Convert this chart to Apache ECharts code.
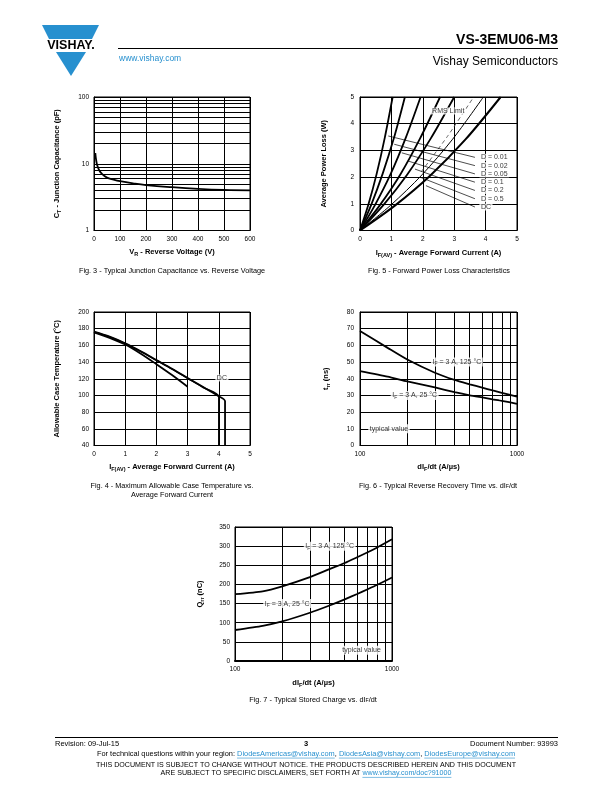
<!DOCTYPE html>
<html><head><meta charset="utf-8">
<script src="https://cdn.jsdelivr.net/npm/echarts@6/dist/echarts.min.js"></script>
<style>html,body{margin:0;padding:0;background:#fff}#c{width:612px;height:792px}</style>
</head><body><div id="c"></div>
<script>
const FONT = '"Liberation Sans", Arial, Helvetica, sans-serif';
const BLUE = '#2790cf';

// ---------- Fig. 3 : junction capacitance ----------
const capVoltage = [5, 8, 12, 20, 30, 50, 75, 100, 150, 200, 300, 400, 500, 600];
const capValue   = [14.5, 11.5, 9.6, 8.0, 7.1, 6.2, 5.8, 5.5, 5.1, 4.8, 4.45, 4.2, 4.05, 4.0];
const capMinorGrid = [2, 3, 4, 5, 6, 7, 8, 9, 20, 30, 40, 50, 60, 70, 80, 90];

// ---------- Fig. 5 : forward power loss ----------
const plNames = ['D = 0.01', 'D = 0.02', 'D = 0.05', 'D = 0.1', 'D = 0.2', 'D = 0.5', 'DC'];
const plD001_I = [0, 0.27, 0.53, 0.79, 1.04];
const plD001_P = [0, 0.98, 2.12, 3.48, 5.0];
const plD002_I = [0, 0.36, 0.72, 1.08, 1.43];
const plD002_P = [0, 0.97, 2.12, 3.46, 5.0];
const plD005_I = [0, 0.48, 0.97, 1.45, 1.93];
const plD005_P = [0, 0.96, 2.10, 3.45, 5.0];
const plD01_I  = [0, 0.64, 1.28, 1.91, 2.55];
const plD01_P  = [0, 0.96, 2.09, 3.44, 5.0];
const plD02_I  = [0, 0.75, 1.50, 2.25, 3.00];
const plD02_P  = [0, 0.96, 2.09, 3.44, 5.0];
const plD05_I  = [0, 0.98, 1.97, 2.95, 3.93];
const plD05_P  = [0, 0.95, 2.08, 3.42, 5.0];
const plDC_I   = [0, 1.12, 2.24, 3.36, 4.48];
const plDC_P   = [0, 0.94, 2.06, 3.41, 5.0];
const plRms_I  = [1.95, 2.80, 3.62];
const plRms_P  = [2.20, 3.55, 5.0];
const leadStartI = [0.90, 1.09, 1.33, 1.54, 1.75, 1.93, 2.10];
const leadStartP = [3.54, 3.23, 2.91, 2.60, 2.30, 1.99, 1.68];
const leadEndI   = [3.66, 3.66, 3.66, 3.66, 3.66, 3.66, 3.66];
const leadEndP   = [2.74, 2.43, 2.12, 1.81, 1.50, 1.19, 0.88];

// ---------- Fig. 4 : allowable case temperature ----------
const tcA_I = [0, 0.5, 1, 1.5, 2, 2.5, 3];
const tcA_T = [175.5, 169, 161, 150, 137.5, 124.5, 110.5];
const tcB_I = [0, 0.5, 1, 1.5, 2, 2.5, 3, 3.5, 4, 4];
const tcB_T = [176, 170, 162, 152.5, 142, 131.5, 120.5, 109.5, 98, 40];
const tcDC_I = [0, 0.5, 1, 1.5, 2, 2.5, 3, 3.5, 4, 4.2, 4.2];
const tcDC_T = [176.5, 170.5, 162.5, 153, 142.5, 132, 121, 110, 99, 93, 40];

// ---------- Fig. 6 / 7 : vs dIF/dt ----------
const didt = [100, 150, 200, 300, 400, 500, 600, 700, 800, 1000];
const trr125 = [68.6, 58.5, 51.5, 43.6, 39.3, 36.7, 34.7, 33.0, 31.6, 29.3];
const trr25  = [44.6, 41.3, 38.4, 34.8, 32.0, 30.1, 28.8, 27.7, 26.8, 25.0];
const qrr125 = [174.5, 182, 195, 219, 240, 256, 271, 284, 296, 318];
const qrr25  = [81, 92, 103.5, 126, 145, 161, 175, 187.5, 198.5, 218];
const logMinorX = [200, 300, 400, 500, 600, 700, 800, 900];

// ---------- helpers ----------
const pairs = (xs, ys) => xs.map((x, i) => [x, ys[i]]);
const axisCommon = {
  axisLine: { show: true, onZero: false, lineStyle: { color: '#000', width: 1 } },
  axisTick: { show: false },
  axisLabel: { color: '#000', fontSize: 6.5, fontFamily: FONT },
  splitLine: { show: true, lineStyle: { color: '#000', width: 1 } },
  nameLocation: 'middle'
};
const nameRich = {
  b: { fontWeight: 'bold', fontSize: 7.5, fontFamily: FONT, color: '#000', lineHeight: 11 },
  s: { fontWeight: 'bold', fontSize: 5.5, fontFamily: FONT, color: '#000', verticalAlign: 'bottom' }
};
const labRich = {
  n: { fontSize: 7, fontFamily: FONT, color: '#000', lineHeight: 9 },
  s: { fontSize: 5, fontFamily: FONT, color: '#000', verticalAlign: 'bottom' }
};
function xA(grid, extra) { return Object.assign({ gridIndex: grid }, axisCommon, extra); }
function yA(grid, extra) { return Object.assign({ gridIndex: grid }, axisCommon, extra); }
function curve(ax, data, width, extra) {
  return Object.assign({ type: 'line', xAxisIndex: ax, yAxisIndex: ax, data: data, showSymbol: false,
    symbol: 'none', smooth: 0.3, silent: true, lineStyle: { color: '#000', width: width }, z: 3 }, extra || {});
}
function minorGrid(axisKey, values) {
  return { silent: true, symbol: ['none', 'none'], label: { show: false },
    lineStyle: { color: '#000', width: 1, type: 'solid' }, animation: false,
    data: values.map(v => ({ [axisKey]: v })) };
}
function textPoints(ax, items, pos, dist) {
  return { type: 'scatter', xAxisIndex: ax, yAxisIndex: ax, symbolSize: 1, silent: true, z: 10,
    itemStyle: { color: 'rgba(0,0,0,0)' },
    label: { show: true, position: pos || 'inside', distance: dist || 0, backgroundColor: '#fff',
      padding: [0, 1.5], rich: labRich, color: '#000', fontSize: 7, fontFamily: FONT },
    data: items.map(it => ({ value: [it[0], it[1]], label: { formatter: it[2] } })) };
}
const intFmt = v => String(Math.round(v));

// ---------- series ----------
const series = [];
// Fig 3
series.push(curve(0, pairs(capVoltage, capValue), 1.8, { smooth: 0.4, markLine: minorGrid('yAxis', capMinorGrid) }));
// Fig 5
series.push(curve(1, pairs(plD001_I, plD001_P), 1.8));
series.push(curve(1, pairs(plD002_I, plD002_P), 1.8));
series.push(curve(1, pairs(plD005_I, plD005_P), 1.8));
series.push(curve(1, pairs(plD01_I, plD01_P), 1.8));
series.push(curve(1, pairs(plD02_I, plD02_P), 1.8));
series.push(curve(1, pairs(plD05_I, plD05_P), 1.0));
series.push(curve(1, pairs(plDC_I, plDC_P), 2.0));
series.push(curve(1, pairs(plRms_I, plRms_P), 1.0, { smooth: 0.2, lineStyle: { color: '#666', width: 1, type: [4, 3] } }));
leadStartI.forEach((s, i) => {
  series.push(curve(1, [[s, leadStartP[i]], [leadEndI[i], leadEndP[i]]], 0.7, { smooth: false, z: 4 }));
});
series.push(textPoints(1, leadEndI.map((x, i) => [x, leadEndP[i], plNames[i]]), 'right', 4));
series.push(textPoints(1, [[2.81, 4.48, 'RMS Limit']]));
// Fig 4
series.push(curve(2, pairs(tcA_I, tcA_T), 1.8));
series.push(curve(2, pairs(tcB_I, tcB_T), 1.5));
series.push(curve(2, pairs(tcDC_I, tcDC_T), 1.8));
series.push(textPoints(2, [[4.1, 121, 'DC']]));
// Fig 6
series.push(curve(3, pairs(didt, trr125), 1.8, { smooth: 0.2, markLine: minorGrid('xAxis', logMinorX) }));
series.push(curve(3, pairs(didt, trr25), 1.8, { smooth: 0.2 }));
series.push(textPoints(3, [
  [414, 50, '{n|I}{s|F}{n| = 3 A, 125 °C}'],
  [223, 30, '{n|I}{s|F}{n| = 3 A, 25 °C}'],
  [153, 10, '{n|typical value}']
]));
// Fig 7
series.push(curve(4, pairs(didt, qrr125), 1.8, { smooth: 0.2, markLine: minorGrid('xAxis', logMinorX) }));
series.push(curve(4, pairs(didt, qrr25), 1.8, { smooth: 0.2 }));
series.push(textPoints(4, [
  [401, 300, '{n|I}{s|F}{n| = 3 A, 125 °C}'],
  [215, 150, '{n|I}{s|F}{n| = 3 A, 25 °C}'],
  [640, 28, '{n|typical value}']
]));

// ---------- graphic texts ----------
const mctx = document.createElement('canvas').getContext('2d');
function tw(t, size, weight) { mctx.font = (weight || 'normal') + ' ' + size + 'px ' + FONT; return mctx.measureText(t).width; }
const G = [];
function txt(text, x, y, size, opts) {
  opts = opts || {};
  G.push({ type: 'text', z: 100, silent: true, style: Object.assign({
    text: text, x: x, y: y, fill: opts.fill || '#000', fontSize: size, fontFamily: FONT,
    fontWeight: opts.weight || 'normal', align: opts.align || 'left', verticalAlign: 'middle',
    textAlign: opts.align || 'left', textVerticalAlign: 'middle' }, opts.rich ? { rich: opts.rich } : {}) });
}
function hline(x1, x2, y, w, color) {
  G.push({ type: 'line', z: 100, silent: true, shape: { x1: x1, y1: y, x2: x2, y2: y }, style: { stroke: color || '#000', lineWidth: w } });
}
// logo
G.push({ type: 'polygon', z: 100, silent: true, shape: { points: [[42, 25], [99, 25], [92, 39], [49, 39]] }, style: { fill: BLUE } });
G.push({ type: 'polygon', z: 100, silent: true, shape: { points: [[56, 52], [86, 52], [71, 76]] }, style: { fill: BLUE } });
txt('VISHAY.', 71, 45.5, 12.5, { weight: 'bold', align: 'center' });
txt('www.vishay.com', 119, 58.5, 8.5, { fill: BLUE });
hline(118, 558, 48.5, 1);
txt('VS-3EMU06-M3', 558, 40, 14, { weight: 'bold', align: 'right' });
txt('Vishay Semiconductors', 558, 62, 12, { align: 'right' });

// captions
const capRich = { n: { fontSize: 7.3, fontFamily: FONT, color: '#000' }, s: { fontSize: 5.2, fontFamily: FONT, color: '#000', verticalAlign: 'bottom' } };
txt('Fig. 3 - Typical Junction Capacitance vs. Reverse Voltage', 172, 271, 7.3, { align: 'center' });
txt('Fig. 5 - Forward Power Loss Characteristics', 439, 271, 7.3, { align: 'center' });
txt('Fig. 4 - Maximum Allowable Case Temperature vs.', 172, 486, 7.3, { align: 'center' });
txt('Average Forward Current', 172, 495, 7.3, { align: 'center' });
txt('{n|Fig. 6 - Typical Reverse Recovery Time vs. dI}{s|F}{n|/dt}', 438, 486, 7.3, { align: 'center', rich: capRich });
txt('{n|Fig. 7 - Typical Stored Charge vs. dI}{s|F}{n|/dt}', 313, 700, 7.3, { align: 'center', rich: capRich });

// footer
hline(55, 558, 737.5, 1);
txt('Revision: 09-Jul-15', 55, 743.5, 7.5);
txt('3', 306, 744, 7.5, { weight: 'bold', align: 'center' });
txt('Document Number: 93993', 558, 743.5, 7.5, { align: 'right' });
function segLine(segs, y, size) {
  const total = segs.reduce((a, s) => a + tw(s[0], size), 0);
  let x = 306 - total / 2;
  segs.forEach(s => {
    const w = tw(s[0], size);
    txt(s[0], x, y, size, { fill: s[1] ? BLUE : '#000' });
    if (s[1]) hline(x, x + w, y + size * 0.55, 0.6, BLUE);
    x += w;
  });
}
segLine([['For technical questions within your region: ', false], ['DiodesAmericas@vishay.com', true], [', ', false],
  ['DiodesAsia@vishay.com', true], [', ', false], ['DiodesEurope@vishay.com', true]], 754, 7.4);
segLine([['THIS DOCUMENT IS SUBJECT TO CHANGE WITHOUT NOTICE. THE PRODUCTS DESCRIBED HEREIN AND THIS DOCUMENT', false]], 765, 7.1);
segLine([['ARE SUBJECT TO SPECIFIC DISCLAIMERS, SET FORTH AT ', false], ['www.vishay.com/doc?91000', true]], 773.5, 7.1);

// ---------- option ----------
const gridBox = { show: true, borderColor: '#000', borderWidth: 1, backgroundColor: 'transparent', containLabel: false };
const option = {
  animation: false,
  backgroundColor: '#fff',
  textStyle: { fontFamily: FONT },
  grid: [
    Object.assign({ left: 94, top: 97, width: 156, height: 133.5 }, gridBox),
    Object.assign({ left: 360, top: 97, width: 157, height: 133.5 }, gridBox),
    Object.assign({ left: 94, top: 312, width: 156, height: 133.5 }, gridBox),
    Object.assign({ left: 360, top: 312, width: 157, height: 133.5 }, gridBox),
    Object.assign({ left: 235, top: 527, width: 157, height: 134 }, gridBox)
  ],
  xAxis: [
    xA(0, { type: 'value', min: 0, max: 600, interval: 100, nameGap: 16,
      name: '{b|V}{s|R}{b| - Reverse Voltage (V)}', nameTextStyle: { rich: nameRich },
      axisLabel: Object.assign({}, axisCommon.axisLabel, { margin: 5 }) }),
    xA(1, { type: 'value', min: 0, max: 5, interval: 1, nameGap: 17,
      name: '{b|I}{s|F(AV)}{b| - Average Forward Current (A)}', nameTextStyle: { rich: nameRich },
      axisLabel: Object.assign({}, axisCommon.axisLabel, { margin: 5 }) }),
    xA(2, { type: 'value', min: 0, max: 5, interval: 1, nameGap: 16,
      name: '{b|I}{s|F(AV)}{b| - Average Forward Current (A)}', nameTextStyle: { rich: nameRich },
      axisLabel: Object.assign({}, axisCommon.axisLabel, { margin: 5 }) }),
    xA(3, { type: 'log', logBase: 10, min: 100, max: 1000, nameGap: 16,
      name: '{b|dI}{s|F}{b|/dt (A/µs)}', nameTextStyle: { rich: nameRich },
      axisLabel: Object.assign({}, axisCommon.axisLabel, { margin: 5, formatter: intFmt }) }),
    xA(4, { type: 'log', logBase: 10, min: 100, max: 1000, nameGap: 16,
      name: '{b|dI}{s|F}{b|/dt (A/µs)}', nameTextStyle: { rich: nameRich },
      axisLine: { show: true, onZero: false, lineStyle: { color: '#000', width: 2 } },
      axisLabel: Object.assign({}, axisCommon.axisLabel, { margin: 5, formatter: intFmt }) })
  ],
  yAxis: [
    yA(0, { type: 'log', logBase: 10, min: 1, max: 100, nameGap: 32,
      name: '{b|C}{s|T}{b| - Junction Capacitance (pF)}', nameTextStyle: { rich: nameRich },
      axisLabel: Object.assign({}, axisCommon.axisLabel, { margin: 5, formatter: intFmt }) }),
    yA(1, { type: 'value', min: 0, max: 5, interval: 1, nameGap: 31,
      name: '{b|Average Power Loss (W)}', nameTextStyle: { rich: nameRich },
      axisLabel: Object.assign({}, axisCommon.axisLabel, { margin: 6 }) }),
    yA(2, { type: 'value', min: 40, max: 200, interval: 20, nameGap: 32,
      name: '{b|Allowable Case Temperature (°C)}', nameTextStyle: { rich: nameRich },
      axisLabel: Object.assign({}, axisCommon.axisLabel, { margin: 5 }) }),
    yA(3, { type: 'value', min: 0, max: 80, interval: 10, nameGap: 29,
      name: '{b|t}{s|rr}{b| (ns)}', nameTextStyle: { rich: nameRich },
      axisLabel: Object.assign({}, axisCommon.axisLabel, { margin: 6 }) }),
    yA(4, { type: 'value', min: 0, max: 350, interval: 50, nameGap: 30,
      name: '{b|Q}{s|rr}{b| (nC)}', nameTextStyle: { rich: nameRich },
      axisLabel: Object.assign({}, axisCommon.axisLabel, { margin: 5 }) })
  ],
  series: series,
  graphic: { elements: G }
};
const chart = echarts.init(document.getElementById('c'), null, { renderer: 'canvas' });
chart.setOption(option);
</script>
</body></html>
